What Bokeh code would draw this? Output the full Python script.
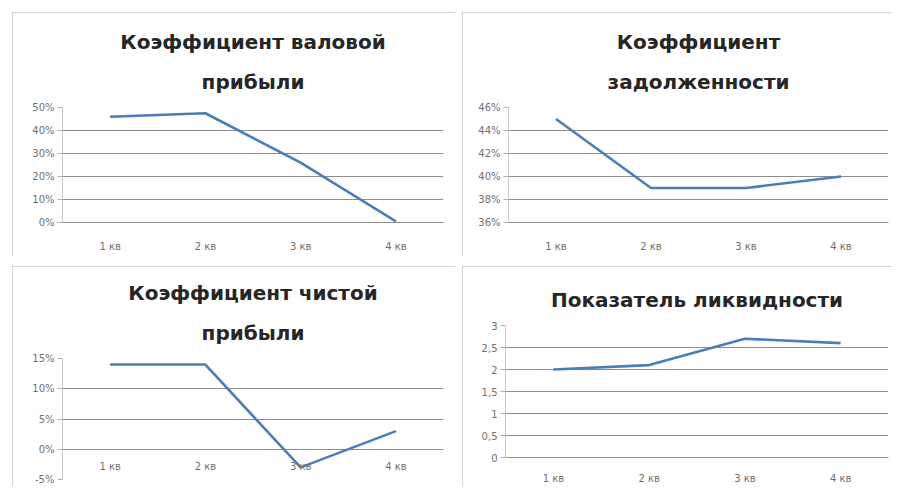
from bokeh.plotting import figure
from bokeh.models import Range1d, FixedTicker, Title, FactorRange
from bokeh.layouts import row, column
from bokeh.core.properties import value
from bokeh.embed import file_html
from bokeh.resources import INLINE

quarters = ["1 кв", "2 кв", "3 кв", "4 кв"]

gross_margin = [46, 47.5, 26, 0.5]
debt_ratio = [45, 39, 39, 40]
net_margin = [14, 14, -3, 3]
liquidity = [2.0, 2.1, 2.7, 2.6]

gross_ticks = [0, 10, 20, 30, 40, 50]
debt_ticks = [36, 38, 40, 42, 44, 46]
net_ticks = [-5, 0, 5, 10, 15]
liq_ticks = [0, 0.5, 1, 1.5, 2, 2.5, 3]
liq_labels = ["0", "0,5", "1", "1,5", "2", "2,5", "3"]

LINE = "#4a7ebb"
GRID = "#8c8c8c"
TICK_TXT = "#707070"
TITLE_FONT = "DejaVu Sans"
TICK_FONT = "DejaVu Sans"


def make_panel(title_lines, values, ticks, labels, width, height,
               left, right, top, bottom, x_standoff=18, x_at=None):
    p = figure(width=width, height=height, output_backend="svg",
               toolbar_location=None, x_range=FactorRange(factors=quarters),
               y_range=Range1d(ticks[0], ticks[-1]),
               min_border_left=left, min_border_right=right,
               min_border_top=top, min_border_bottom=bottom)
    p.styles = {"outline": "1px solid #c6c6c6", "outline-offset": "-1px"}
    for i, line in enumerate(reversed(title_lines)):
        p.add_layout(Title(text=line, align="center", text_font=TITLE_FONT,
                           text_font_size="20px", text_font_style="bold",
                           text_color="#262626",
                           standoff=28 if i == 0 else 0), "above")
    p.line(quarters, values, line_color=LINE, line_width=2.6)
    p.outline_line_color = None
    p.background_fill_color = "white"
    p.border_fill_color = "white"

    p.yaxis.ticker = FixedTicker(ticks=ticks)
    p.yaxis.major_label_overrides = {t: l for t, l in zip(ticks, labels)}
    p.yaxis.major_label_text_font = TICK_FONT
    p.yaxis.major_label_text_font_size = "10px"
    p.yaxis.major_label_text_color = TICK_TXT
    p.yaxis.axis_line_color = "#c8c8c8"
    p.yaxis.major_tick_line_color = "#b0b0b0"
    p.yaxis.major_tick_out = 5
    p.yaxis.major_tick_in = 0
    p.yaxis.minor_tick_line_color = None
    p.yaxis.major_label_standoff = 3

    p.xaxis.major_label_text_font = TICK_FONT
    p.xaxis.major_label_text_font_size = "10px"
    p.xaxis.major_label_text_color = TICK_TXT
    p.xaxis.axis_line_color = GRID
    p.xaxis.major_tick_line_color = None
    p.xaxis.major_tick_out = 0
    p.xaxis.major_tick_in = 0
    p.xaxis.major_label_standoff = x_standoff
    if x_at is not None:
        # category axis crossing at x_at: labels sit just under that line
        p.xaxis.visible = False
        p.text(x=quarters, y=[x_at] * len(quarters), text=quarters,
               text_font=value(TICK_FONT), text_font_size="10px",
               text_color=TICK_TXT, text_align="center",
               text_baseline="top", y_offset=12)

    p.ygrid.ticker = FixedTicker(ticks=ticks)
    p.ygrid.grid_line_color = GRID
    p.ygrid.grid_line_width = 1
    p.xgrid.grid_line_color = None
    return p


def pct(ts):
    return [f"{t}%" for t in ts]


p1 = make_panel(["Коэффициент валовой", "прибыли"], gross_margin, gross_ticks,
                pct(gross_ticks), 443, 244, 50, 12, 95, 34)
p2 = make_panel(["Коэффициент", "задолженности"], debt_ratio, debt_ticks,
                pct(debt_ticks), 430, 244, 46, 4, 95, 34)
p3 = make_panel(["Коэффициент чистой", "прибыли"], net_margin, net_ticks,
                pct(net_ticks), 443, 220, 50, 12, 92, 7, x_at=0)
p4 = make_panel(["Показатель ликвидности"], liquidity, liq_ticks,
                liq_labels, 430, 220, 43, 4, 59, 29, x_standoff=15)

layout = column(row(column(p1), column(p2), spacing=7),
                row(column(p3), column(p4), spacing=7),
                spacing=10, margin=(12, 0, 0, 12))

open("out.html", "w").write(file_html(layout, INLINE))
